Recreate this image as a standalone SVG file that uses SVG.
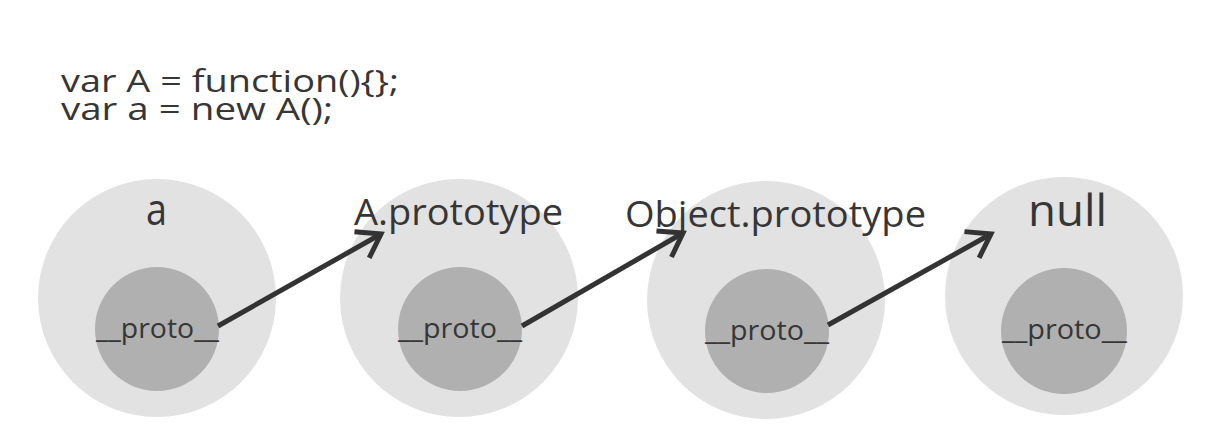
<svg xmlns="http://www.w3.org/2000/svg" width="1220" height="436" viewBox="0 0 1220 436">
<defs>
<style>
.outer{fill:#e2e2e2}
.inner{fill:#b0b0b0}
.t{font-family:"Open Sans","Liberation Sans",sans-serif;fill:#363636}
.code{font-size:31px}
.lbl{font-size:36px}
.big{font-size:44px}
.proto{font-size:28px}
.conn{stroke:#333;stroke-width:5;fill:none}
</style>
<marker id="arr" viewBox="0 0 30 30" refX="26" refY="15" markerWidth="30" markerHeight="30" markerUnits="userSpaceOnUse" orient="auto" overflow="visible">
<path d="M4,0 L26,15 L4,30" fill="none" stroke="#333" stroke-width="5" stroke-linejoin="miter"/>
</marker>
</defs>
<rect width="1220" height="436" fill="#ffffff"/>
<g id="code">
<text class="t code" x="61" y="92" textLength="338" lengthAdjust="spacingAndGlyphs">var A = function(){};</text>
<text class="t code" x="61" y="120" textLength="272" lengthAdjust="spacingAndGlyphs">var a = new A();</text>
</g>
<g id="node-a">
<circle class="outer" cx="157" cy="298" r="119"/>
<circle class="inner" cx="157" cy="329" r="62"/>
<text class="t big" x="146" y="225" textLength="21" lengthAdjust="spacingAndGlyphs">a</text>
<text class="t proto" x="96" y="338" textLength="123" lengthAdjust="spacingAndGlyphs">__proto__</text>
</g>
<g id="node-A-prototype">
<circle class="outer" cx="459" cy="298" r="119"/>
<circle class="inner" cx="460" cy="329" r="62"/>
<text class="t lbl" x="354" y="225" textLength="209" lengthAdjust="spacingAndGlyphs">A.prototype</text>
<text class="t proto" x="398" y="338" textLength="124" lengthAdjust="spacingAndGlyphs">__proto__</text>
</g>
<g id="node-Object-prototype">
<circle class="outer" cx="766" cy="300" r="119"/>
<circle class="inner" cx="767" cy="331" r="62"/>
<text class="t lbl" x="625" y="227" textLength="301" lengthAdjust="spacingAndGlyphs">Object.prototype</text>
<text class="t proto" x="705" y="340" textLength="124" lengthAdjust="spacingAndGlyphs">__proto__</text>
</g>
<g id="node-null">
<circle class="outer" cx="1064" cy="296" r="119"/>
<circle class="inner" cx="1064" cy="331" r="63"/>
<text class="t big" x="1028" y="226" textLength="79" lengthAdjust="spacingAndGlyphs">null</text>
<text class="t proto" x="1002" y="339" textLength="125" lengthAdjust="spacingAndGlyphs">__proto__</text>
</g>
<g id="connectors">
<line class="conn" x1="218" y1="326" x2="381" y2="234" marker-end="url(#arr)"/>
<line class="conn" x1="522" y1="326" x2="683" y2="233" marker-end="url(#arr)"/>
<line class="conn" x1="828" y1="325" x2="991" y2="234" marker-end="url(#arr)"/>
</g>
</svg>
